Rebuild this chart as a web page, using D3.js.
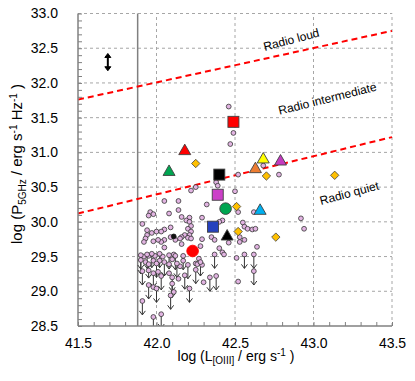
<!DOCTYPE html>
<html><head><meta charset="utf-8">
<script src="https://cdn.jsdelivr.net/npm/d3@7"></script>
<style>html,body{margin:0;padding:0;background:#fff;} svg{display:block;font-family:"Liberation Sans",Arial,sans-serif;}</style>
</head><body><svg id="c" width="415" height="381"></svg>
<script>
// ---------- data ----------
const xTicks = [41.5, 42.0, 42.5, 43.0, 43.5];
const yTicks = [28.5, 29.0, 29.5, 30.0, 30.5, 31.0, 31.5, 32.0, 32.5, 33.0];

// dividing lines (log L, log P) end points
const loudLine = [[41.5, 31.76], [43.5, 32.75]];
const quietLine = [[41.5, 30.12], [43.5, 31.22]];
const sampleLimitL = 41.88;   // vertical solid line

const regionLabels = ["Radio loud", "Radio intermediate", "Radio quiet"];
const regionLabelL = [42.86, 43.09, 43.23];
const regionLabelP = [32.61, 31.76, 30.40];

const errBarL = 41.69, errBarP = [32.19, 32.41];

// comparison sample: detections
const detections = [
 [42.46,31.66],[42.49,31.28],[42.47,31.12],[42.52,30.68],[42.78,30.68],[42.68,30.81],
 [42.38,30.57],[42.39,30.52],[42.25,30.50],[42.22,30.45],[42.50,30.44],
 [42.05,30.30],[42.14,30.30],[42.32,30.25],
 [41.96,30.14],[41.98,30.11],[41.95,30.09],[42.08,30.12],[42.14,30.17],[42.16,30.07],
 [42.21,30.06],[42.19,30.02],[42.21,30.00],[42.29,30.06],
 [42.55,29.99],[42.62,30.14],[42.52,30.14],[42.92,30.05],[42.94,29.90],
 [42.42,30.02],[42.40,30.00],
 [41.91,29.97],[41.94,29.88],[41.97,29.84],[42.00,29.86],[42.05,29.89],[42.09,29.92],
 [42.56,29.93],[42.58,29.90],[42.61,29.89],[42.63,29.90],
 [42.53,29.78],[42.56,29.74],[42.53,29.71],[42.46,29.70],[42.64,29.64],
 [42.35,29.78],[42.37,29.74],[42.29,29.75],
 [42.22,29.94],[42.20,29.90],[42.22,29.86],[42.21,29.81],[42.18,29.81],[42.20,29.77],
 [42.22,29.76],[42.16,29.78],[42.15,29.76],[42.12,29.74],
 [42.03,29.86],[41.94,29.81],[41.93,29.76],[41.92,29.71],[42.05,29.74],[42.03,29.71],
 [42.01,29.74],[42.09,29.78],
 [42.51,29.48],[42.52,29.14],
 [42.30,29.13],[42.40,29.62],[42.42,29.56],[42.43,29.53],[42.28,29.65],
 [41.98,29.72],[42.05,29.63],[42.16,29.68],
 [41.92,29.50],[41.95,29.51],[41.99,29.51],[42.04,29.50],[42.11,29.53],
 [41.93,29.42],[41.98,29.44],[42.02,29.44],[42.08,29.39],[42.10,29.46],[42.15,29.36],
 [42.17,29.44],[42.25,29.40],
 [41.95,29.30],[42.01,29.28],[42.08,29.26],[42.14,29.18],
 [41.98,29.06],[42.11,28.99],
 [42.27,29.47],[42.29,29.38],[42.26,29.39]
];
// comparison sample: upper limits
const upperLimits = [
 [41.90,29.52],[41.94,29.53],[41.97,29.54],[42.02,29.54],[42.08,29.52],[42.12,29.51],[42.17,29.51],
 [41.90,29.45],[41.95,29.39],[42.00,29.40],[42.05,29.42],[42.13,29.40],[42.20,29.38],
 [41.91,29.29],[41.98,29.26],[42.03,29.22],[42.10,29.20],[42.18,29.23],
 [41.95,29.09],[42.00,29.04],[42.10,29.11],[42.09,28.94],[42.21,29.04],
 [41.91,28.86],[41.98,28.63],[42.03,28.67],
 [42.28,29.42],[42.25,29.31],
 [42.37,29.53],[42.38,29.22],[42.34,29.20],
 [42.56,29.53],[42.62,29.53],[42.62,29.29]
];
const blackDots = [[42.11,29.79]];
const limitDepth = 0.2;

// diamonds
const diamonds = [[42.25,30.84],[42.70,30.66],[42.51,30.22],[42.52,29.86],[42.76,29.78],[43.135,30.67]];

// highlighted sources
const srcL = [42.49, 42.40, 42.39, 42.36, 42.18, 42.08, 42.63, 42.68, 42.79, 42.66, 42.45, 42.44, 42.23];
const srcP = [31.44, 30.68, 30.39, 29.93, 31.04, 30.74, 30.78, 30.92, 30.89, 30.18, 29.81, 30.19, 29.58];
const srcShape = ["square","square","square","square","triangle","triangle","triangle","triangle","triangle","triangle","triangle","circle","circle"];
const srcColor = ["#FF0000","#000000","#CC3FC8","#2541BE","#FF0000","#00A651","#ED7D31","#FFFF00","#C43BC0","#00B0F0","#000000","#00A651","#FF0000"];

// ---------- drawing ----------
const svg = d3.select("#c");
const x = d3.scaleLinear().domain([41.5, 43.5]).range([78, 392]);
const y = d3.scaleLinear().domain([28.5, 33.0]).range([326, 13.5]);

svg.append("defs").append("clipPath").attr("id","clip")
  .append("rect").attr("x",78).attr("y",13.5).attr("width",314).attr("height",312.5);

// grid
const grid = svg.append("g");
grid.selectAll(".gx").data(xTicks.slice(1)).join("line")
  .attr("x1", d=>x(d)).attr("x2", d=>x(d)).attr("y1", y(28.5)).attr("y2", y(33))
  .attr("stroke","#A6A6A6").attr("stroke-width",1).attr("stroke-dasharray","3,3");
grid.selectAll(".gy").data(yTicks.slice(1)).join("line")
  .attr("x1", x(41.5)).attr("x2", x(43.5)).attr("y1", d=>y(d)).attr("y2", d=>y(d))
  .attr("stroke","#A6A6A6").attr("stroke-width",1).attr("stroke-dasharray","3,3");

// vertical solid line
svg.append("line").attr("x1",x(sampleLimitL)).attr("x2",x(sampleLimitL))
  .attr("y1",y(28.5)).attr("y2",y(33)).attr("stroke","#808080").attr("stroke-width",1.5);

// red dashed lines
const line = d3.line().x(d=>x(d[0])).y(d=>y(d[1]));
[loudLine, quietLine].forEach(l => {
  svg.append("path").attr("d", line(l)).attr("fill","none")
    .attr("stroke","#FF0000").attr("stroke-width",2).attr("stroke-dasharray","6,4");
});

// region labels
const angles = [-15, -14, -15];
regionLabels.forEach((t,i) => {
  svg.append("text").attr("transform",`translate(${x(regionLabelL[i])},${y(regionLabelP[i])}) rotate(${angles[i]})`)
    .attr("text-anchor","middle").attr("dominant-baseline","middle")
    .attr("font-size",12).attr("fill","#000").text(t);
});

// error bar (double-headed)
const ex = x(errBarL), ey0 = y(errBarP[0]), ey1 = y(errBarP[1]);
svg.append("line").attr("x1",ex).attr("x2",ex).attr("y1",ey0-2).attr("y2",ey1+2)
  .attr("stroke","#000").attr("stroke-width",2);
svg.append("path").attr("d",`M${ex-3},${ey1+3}L${ex},${ey1-1}L${ex+3},${ey1+3}Z M${ex-3},${ey0-3}L${ex},${ey0+1}L${ex+3},${ey0-3}Z`)
  .attr("fill","#000").attr("stroke","#000").attr("stroke-width",1);

// upper limit arrows
const arr = svg.append("g").attr("clip-path","url(#clip)").attr("stroke","#333").attr("stroke-width",1).attr("fill","none");
upperLimits.forEach(d => {
  const cx = x(d[0]), cy = y(d[1]), ey = y(d[1]-limitDepth);
  arr.append("line").attr("x1",cx).attr("x2",cx).attr("y1",cy).attr("y2",ey);
  arr.append("path").attr("d",`M${cx-3},${ey-4}L${cx},${ey}L${cx+3},${ey-4}`);
});

// small circles
const smallFill = "#E2B4E2";
svg.append("g").selectAll("circle").data(detections.concat(upperLimits)).join("circle")
  .attr("cx", d=>x(d[0])).attr("cy", d=>y(d[1])).attr("r",2.4)
  .attr("fill",smallFill).attr("stroke","#333").attr("stroke-width",0.8);
svg.append("g").selectAll("circle").data(blackDots).join("circle")
  .attr("cx", d=>x(d[0])).attr("cy", d=>y(d[1])).attr("r",2.4)
  .attr("fill","#111").attr("stroke","#111").attr("stroke-width",0.8);

// diamonds
svg.append("g").selectAll("path").data(diamonds).join("path")
  .attr("d", d=>{const cx=x(d[0]),cy=y(d[1]);return `M${cx},${cy-4.2}L${cx+4.2},${cy}L${cx},${cy+4.2}L${cx-4.2},${cy}Z`;})
  .attr("fill","#FFC000").attr("stroke","#404040").attr("stroke-width",0.8);

// highlighted sources
const sg = svg.append("g");
srcL.forEach((L,i) => {
  const cx = x(L), cy = y(srcP[i]);
  let el;
  if (srcShape[i] === "square") {
    el = sg.append("rect").attr("x",cx-5.5).attr("y",cy-5.5).attr("width",11).attr("height",11);
  } else if (srcShape[i] === "triangle") {
    el = sg.append("path").attr("d",`M${cx},${cy-5.5}L${cx+6},${cy+5}L${cx-6},${cy+5}Z`);
  } else {
    el = sg.append("circle").attr("cx",cx).attr("cy",cy).attr("r",5.8);
  }
  el.attr("fill",srcColor[i]).attr("stroke", srcColor[i]==="#FF0000" && srcShape[i]==="circle" ? "#FF0000" : "#404040").attr("stroke-width",0.9);
});

// axes
const minorY = d3.range(285, 331).map(v=>v/10);
const minorX = d3.range(415, 436).map(v=>v/10);
const axL = svg.append("g").attr("transform",`translate(${x(41.5)},0)`)
  .call(d3.axisRight(y).tickValues(minorY).tickSize(4).tickFormat(""));
const axB = svg.append("g").attr("transform",`translate(0,${y(28.5)})`)
  .call(d3.axisTop(x).tickValues(minorX).tickSize(4).tickFormat(""));
[axL, axB].forEach(a => { a.selectAll("line").attr("stroke","#808080"); a.select(".domain").remove(); });

const labL = svg.append("g").attr("transform",`translate(${x(41.5)},0)`)
  .call(d3.axisLeft(y).tickValues(yTicks).tickSize(0).tickPadding(20).tickFormat(d3.format(".1f")));
const labB = svg.append("g").attr("transform",`translate(0,${y(28.5)})`)
  .call(d3.axisBottom(x).tickValues(xTicks).tickSize(0).tickPadding(12).tickFormat(d3.format(".1f")));
[labL, labB].forEach(a => {
  a.select(".domain").remove();
  a.selectAll("text").attr("font-size",14).attr("fill","#000").attr("font-family",'"Liberation Sans",Arial,sans-serif');
});

svg.append("line").attr("x1",x(41.5)).attr("x2",x(41.5)).attr("y1",y(28.5)).attr("y2",y(33))
  .attr("stroke","#808080").attr("stroke-width",1.5);
svg.append("line").attr("x1",x(41.5)).attr("x2",x(43.5)).attr("y1",y(28.5)).attr("y2",y(28.5))
  .attr("stroke","#808080").attr("stroke-width",1.5);

// axis titles
const xt = svg.append("text").attr("x",236).attr("y",361).attr("text-anchor","middle").attr("font-size",14).attr("fill","#000");
xt.append("tspan").text("log (L");
xt.append("tspan").attr("font-size",10).attr("dy",3).text("[OIII]");
xt.append("tspan").attr("dy",-3).text(" / erg s");
xt.append("tspan").attr("font-size",10).attr("dy",-5).text("-1");
xt.append("tspan").attr("dy",5).text(" )");

const yt = svg.append("text").attr("transform","translate(22,164) rotate(-90)").attr("text-anchor","middle").attr("font-size",15).attr("fill","#000");
yt.append("tspan").text("log (P");
yt.append("tspan").attr("font-size",10).attr("dy",4).text("5GHz");
yt.append("tspan").attr("dy",-4).text(" / erg s");
yt.append("tspan").attr("font-size",10).attr("dy",-5).text("-1");
yt.append("tspan").attr("dy",5).text(" Hz");
yt.append("tspan").attr("font-size",10).attr("dy",-5).text("-1");
yt.append("tspan").attr("dy",5).text(" )");
</script>
</body></html>
